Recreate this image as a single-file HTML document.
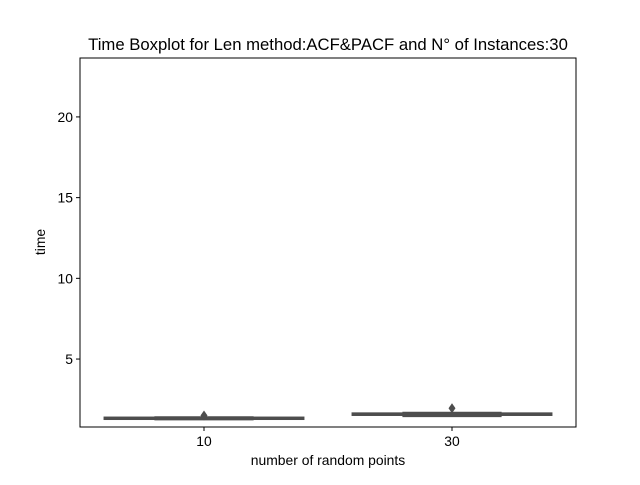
<!DOCTYPE html>
<html><head><meta charset="utf-8"><style>
body{margin:0;background:#fff;font-family:"Liberation Sans",sans-serif}
svg text{font-family:"Liberation Sans",sans-serif;fill:#000}
</style></head><body>
<svg width="640" height="480" viewBox="0 0 640 480">
<rect width="640" height="480" fill="#fff"/>
<text x="328" y="50" font-size="16.7" text-anchor="middle">Time Boxplot for Len method:ACF&amp;PACF and N° of Instances:30</text>
<g id="marks"></g>
<g id="axes"></g>
<rect x="80" y="58" width="496" height="369" fill="none" stroke="#000" stroke-width="1"/>
<text x="328" y="465" font-size="13.9" text-anchor="middle">number of random points</text>
<text x="45" y="242" font-size="13.9" text-anchor="middle" transform="rotate(-90 45 242)">time</text>
</svg>
<script>
const categories=["10","30"];
const q1=[1.30,1.55];
const median=[1.33,1.58];
const q3=[1.36,1.62];
const whisLo=[1.28,1.48];
const whisHi=[1.38,1.66];
const outliers=[[1.50],[1.95]];
const yTicks=[5,10,15,20];
const yMin=0.79,yMax=23.65;
const NS="http://www.w3.org/2000/svg";
const L=80,R=576,T=58,B=427;
function ys(v){return B-(v-yMin)/(yMax-yMin)*(B-T);}
function xs(i){return L+(i+0.5)*(R-L)/categories.length;}
function mk(tag,a,p){const e=document.createElementNS(NS,tag);for(const k in a)e.setAttribute(k,a[k]);p.appendChild(e);return e;}
const marks=document.getElementById('marks'),axes=document.getElementById('axes');
const bw=(R-L)/categories.length*0.8;
categories.forEach((c,i)=>{
  const cx=xs(i);
  const g=mk('g',{},marks);
  
  
  const st={stroke:'#4d4d4d','stroke-width':2.5,fill:'none'};
  mk('line',Object.assign({x1:cx,x2:cx,y1:ys(whisLo[i]),y2:ys(q1[i])},st),g);
  mk('line',Object.assign({x1:cx,x2:cx,y1:ys(whisHi[i]),y2:ys(q3[i])},st),g);
  mk('line',Object.assign({x1:cx-bw/4,x2:cx+bw/4,y1:ys(whisLo[i]),y2:ys(whisLo[i])},st),g);
  mk('line',Object.assign({x1:cx-bw/4,x2:cx+bw/4,y1:ys(whisHi[i]),y2:ys(whisHi[i])},st),g);
  mk('rect',{x:cx-bw/2,y:ys(q3[i]),width:bw,height:Math.max(0.5,ys(q1[i])-ys(q3[i])),fill:'#5a5a8a',stroke:'#4d4d4d','stroke-width':2.5},g);
  mk('line',Object.assign({x1:cx-bw/2,x2:cx+bw/2,y1:ys(median[i]),y2:ys(median[i])},st),g);
  outliers[i].forEach(o=>{
    const d=mk('path',{d:`M${cx} ${ys(o)-5}L${cx+3.5} ${ys(o)}L${cx} ${ys(o)+5}L${cx-3.5} ${ys(o)}Z`,fill:'#4d4d4d'},g);
    
    
  });
  mk('line',{x1:cx,x2:cx,y1:B,y2:B+4,stroke:'#000'},axes);
  const t=mk('text',{x:cx,y:B+19,'font-size':13.9,'text-anchor':'middle'},axes);
  t.textContent=c;
  
  
});
yTicks.forEach(v=>{
  const y=ys(v);
  mk('line',{x1:L-4,x2:L,y1:y,y2:y,stroke:'#000'},axes);
  const t=mk('text',{x:L-7,y:y+5,'font-size':13.9,'text-anchor':'end'},axes);
  t.textContent=v;
  
  
});
</script>
</body></html>
